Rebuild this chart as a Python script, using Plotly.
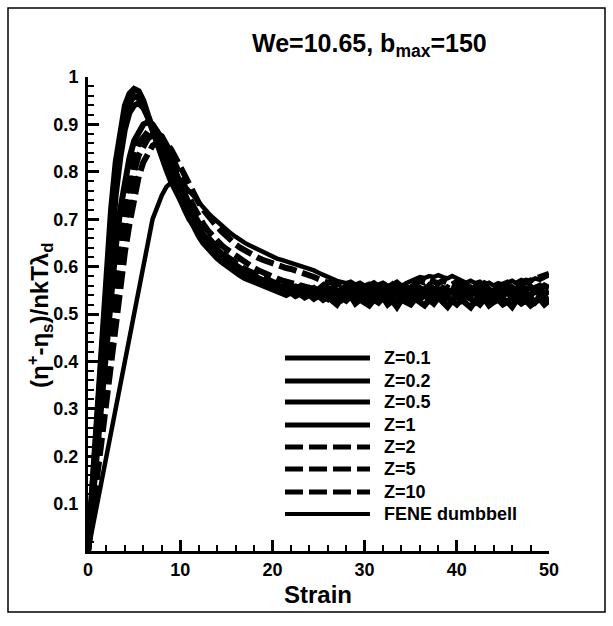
import plotly.graph_objects as go

# ---------------- data ----------------
strain = [0.0, 0.5, 1.0, 1.5, 2.0, 2.5, 3.0, 3.5, 4.0, 4.5,
          5.0, 5.5, 6.0, 6.5, 7.0, 7.5, 8.0, 8.5, 9.0, 9.5,
          10.0, 10.5, 11.0, 11.5, 12.0, 12.5, 13.0, 13.5, 14.0, 14.5,
          15.0, 15.5, 16.0, 16.5, 17.0, 17.5, 18.0, 18.5, 19.0, 19.5,
          20.0, 20.5, 21.0, 21.5, 22.0, 22.5, 23.0, 23.5, 24.0, 24.5,
          25.0, 25.5, 26.0, 26.5, 27.0, 27.5, 28.0, 28.5, 29.0, 29.5,
          30.0, 30.5, 31.0, 31.5, 32.0, 32.5, 33.0, 33.5, 34.0, 34.5,
          35.0, 35.5, 36.0, 36.5, 37.0, 37.5, 38.0, 38.5, 39.0, 39.5,
          40.0, 40.5, 41.0, 41.5, 42.0, 42.5, 43.0, 43.5, 44.0, 44.5,
          45.0, 45.5, 46.0, 46.5, 47.0, 47.5, 48.0, 48.5, 49.0, 49.5,
          50.0]

series_names = ["Z=0.1", "Z=0.2", "Z=0.5", "Z=1", "Z=2", "Z=5", "Z=10", "FENE dumbbell"]

z_0_1 = [0.00, 0.15, 0.31, 0.46, 0.60, 0.72, 0.82, 0.89, 0.94, 0.965, 0.975,
         0.97, 0.95, 0.92, 0.89, 0.86, 0.83, 0.81, 0.79, 0.765, 0.74,
         0.72, 0.70, 0.685, 0.67, 0.655, 0.645, 0.635, 0.625, 0.615, 0.61,
         0.60, 0.598, 0.59, 0.585, 0.58, 0.575, 0.572, 0.568, 0.562, 0.56,
         0.555, 0.558, 0.55, 0.552, 0.545, 0.55, 0.54, 0.548, 0.54, 0.545,
         0.538, 0.55, 0.542, 0.535, 0.548, 0.54, 0.552, 0.536, 0.545, 0.54,
         0.53, 0.545, 0.55, 0.538, 0.542, 0.535, 0.548, 0.54, 0.532, 0.545,
         0.55, 0.54, 0.545, 0.536, 0.548, 0.542, 0.53, 0.545, 0.55, 0.54,
         0.535, 0.548, 0.54, 0.545, 0.532, 0.55, 0.542, 0.538, 0.548, 0.54,
         0.545, 0.535, 0.55, 0.54, 0.545, 0.538, 0.552, 0.54, 0.545, 0.548]

z_0_2 = [0.00, 0.14, 0.29, 0.43, 0.57, 0.69, 0.79, 0.86, 0.91, 0.945, 0.96,
         0.955, 0.94, 0.915, 0.885, 0.855, 0.83, 0.805, 0.78, 0.76, 0.74,
         0.72, 0.70, 0.68, 0.665, 0.65, 0.638, 0.628, 0.618, 0.61, 0.602,
         0.595, 0.588, 0.582, 0.576, 0.572, 0.567, 0.562, 0.558, 0.555, 0.55,
         0.548, 0.545, 0.54, 0.545, 0.538, 0.542, 0.535, 0.54, 0.532, 0.538,
         0.53, 0.536, 0.528, 0.52, 0.534, 0.528, 0.538, 0.522, 0.53, 0.525,
         0.518, 0.53, 0.524, 0.535, 0.52, 0.528, 0.515, 0.53, 0.525, 0.52,
         0.532, 0.524, 0.518, 0.53, 0.522, 0.535, 0.525, 0.515, 0.528, 0.52,
         0.53, 0.522, 0.514, 0.528, 0.52, 0.532, 0.518, 0.525, 0.53, 0.52,
         0.526, 0.515, 0.53, 0.522, 0.528, 0.518, 0.525, 0.532, 0.52, 0.528]

z_0_5 = [0.00, 0.13, 0.27, 0.40, 0.53, 0.65, 0.75, 0.83, 0.89, 0.925, 0.94,
         0.945, 0.935, 0.915, 0.89, 0.865, 0.84, 0.815, 0.795, 0.77, 0.75,
         0.73, 0.71, 0.69, 0.675, 0.66, 0.65, 0.638, 0.628, 0.62, 0.612,
         0.605, 0.598, 0.592, 0.588, 0.582, 0.578, 0.575, 0.57, 0.568, 0.562,
         0.56, 0.557, 0.562, 0.555, 0.552, 0.558, 0.55, 0.555, 0.548, 0.552,
         0.56, 0.548, 0.555, 0.545, 0.552, 0.558, 0.546, 0.55, 0.555, 0.545,
         0.552, 0.558, 0.545, 0.55, 0.556, 0.544, 0.552, 0.548, 0.558, 0.55,
         0.545, 0.555, 0.548, 0.56, 0.552, 0.546, 0.555, 0.55, 0.545, 0.556,
         0.55, 0.544, 0.556, 0.55, 0.558, 0.546, 0.552, 0.545, 0.555, 0.55,
         0.556, 0.548, 0.545, 0.555, 0.55, 0.558, 0.548, 0.552, 0.56, 0.555]

z_1 = [0.00, 0.11, 0.23, 0.34, 0.45, 0.55, 0.64, 0.72, 0.78, 0.83, 0.865,
       0.885, 0.90, 0.905, 0.90, 0.885, 0.865, 0.84, 0.815, 0.79, 0.765,
       0.74, 0.72, 0.70, 0.682, 0.668, 0.655, 0.645, 0.635, 0.625, 0.618,
       0.61, 0.602, 0.596, 0.59, 0.584, 0.58, 0.575, 0.57, 0.566, 0.562,
       0.558, 0.552, 0.556, 0.548, 0.545, 0.55, 0.542, 0.546, 0.538, 0.545,
       0.54, 0.532, 0.545, 0.538, 0.53, 0.542, 0.535, 0.528, 0.54, 0.534,
       0.525, 0.538, 0.532, 0.545, 0.53, 0.536, 0.528, 0.54, 0.532, 0.525,
       0.538, 0.53, 0.542, 0.528, 0.535, 0.54, 0.526, 0.534, 0.53, 0.538,
       0.528, 0.536, 0.532, 0.525, 0.54, 0.53, 0.535, 0.528, 0.538, 0.532,
       0.526, 0.535, 0.53, 0.54, 0.528, 0.534, 0.525, 0.538, 0.53, 0.535]

z_2 = [0.00, 0.10, 0.20, 0.30, 0.40, 0.50, 0.59, 0.67, 0.74, 0.79, 0.83,
       0.86, 0.875, 0.885, 0.89, 0.885, 0.87, 0.85, 0.825, 0.80, 0.775,
       0.75, 0.73, 0.71, 0.69, 0.675, 0.662, 0.65, 0.64, 0.63, 0.622,
       0.615, 0.608, 0.60, 0.595, 0.59, 0.585, 0.58, 0.576, 0.572, 0.568,
       0.565, 0.56, 0.562, 0.556, 0.558, 0.552, 0.556, 0.55, 0.555, 0.548,
       0.545, 0.555, 0.55, 0.542, 0.552, 0.546, 0.54, 0.55, 0.545, 0.538,
       0.548, 0.54, 0.545, 0.552, 0.538, 0.546, 0.55, 0.54, 0.545, 0.536,
       0.548, 0.542, 0.552, 0.545, 0.538, 0.55, 0.544, 0.54, 0.552, 0.546,
       0.54, 0.55, 0.545, 0.538, 0.552, 0.546, 0.542, 0.55, 0.544, 0.538,
       0.548, 0.542, 0.55, 0.545, 0.54, 0.552, 0.546, 0.55, 0.542, 0.548]

z_5 = [0.00, 0.09, 0.18, 0.27, 0.36, 0.45, 0.54, 0.62, 0.69, 0.75, 0.80,
       0.835, 0.855, 0.87, 0.878, 0.88, 0.875, 0.86, 0.84, 0.815, 0.79,
       0.765, 0.745, 0.725, 0.705, 0.69, 0.676, 0.664, 0.654, 0.645, 0.637,
       0.63, 0.622, 0.615, 0.608, 0.602, 0.597, 0.592, 0.587, 0.583, 0.578,
       0.575, 0.571, 0.568, 0.565, 0.562, 0.56, 0.557, 0.555, 0.552, 0.55,
       0.556, 0.548, 0.552, 0.558, 0.546, 0.553, 0.56, 0.55, 0.545, 0.555,
       0.56, 0.55, 0.556, 0.548, 0.554, 0.562, 0.55, 0.556, 0.546, 0.553,
       0.558, 0.55, 0.545, 0.556, 0.562, 0.552, 0.548, 0.556, 0.55, 0.545,
       0.555, 0.56, 0.55, 0.546, 0.556, 0.552, 0.56, 0.548, 0.555, 0.55,
       0.545, 0.556, 0.55, 0.558, 0.552, 0.546, 0.555, 0.56, 0.55, 0.556]

z_10 = [0.00, 0.08, 0.16, 0.24, 0.32, 0.40, 0.48, 0.56, 0.63, 0.69, 0.745,
        0.79, 0.82, 0.84, 0.855, 0.862, 0.865, 0.86, 0.848, 0.83, 0.81,
        0.79, 0.77, 0.752, 0.735, 0.72, 0.707, 0.695, 0.684, 0.674, 0.664,
        0.655, 0.647, 0.64, 0.634, 0.628, 0.623, 0.618, 0.614, 0.61, 0.606,
        0.602, 0.60, 0.597, 0.595, 0.592, 0.59, 0.586, 0.583, 0.578, 0.574,
        0.57, 0.566, 0.568, 0.562, 0.565, 0.56, 0.563, 0.558, 0.562, 0.556,
        0.56, 0.565, 0.558, 0.562, 0.555, 0.56, 0.566, 0.558, 0.562, 0.556,
        0.565, 0.57, 0.566, 0.572, 0.568, 0.565, 0.57, 0.566, 0.562, 0.568,
        0.565, 0.56, 0.566, 0.562, 0.558, 0.565, 0.56, 0.564, 0.558, 0.562,
        0.566, 0.56, 0.565, 0.57, 0.566, 0.572, 0.575, 0.578, 0.58, 0.585]

fene = [0.00, 0.05, 0.10, 0.155, 0.21, 0.26, 0.31, 0.36, 0.41, 0.46, 0.51,
        0.56, 0.61, 0.66, 0.70, 0.725, 0.75, 0.768, 0.777, 0.78, 0.777,
        0.77, 0.76, 0.748, 0.736, 0.724, 0.714, 0.704, 0.695, 0.686, 0.678,
        0.67, 0.663, 0.656, 0.65, 0.645, 0.64, 0.635, 0.63, 0.625, 0.62,
        0.617, 0.614, 0.611, 0.608, 0.605, 0.602, 0.60, 0.596, 0.592, 0.587,
        0.582, 0.578, 0.574, 0.57, 0.568, 0.565, 0.568, 0.562, 0.566, 0.56,
        0.564, 0.558, 0.562, 0.566, 0.56, 0.556, 0.562, 0.558, 0.565, 0.57,
        0.574, 0.578, 0.576, 0.58, 0.578, 0.582, 0.578, 0.575, 0.58, 0.576,
        0.572, 0.566, 0.57, 0.565, 0.568, 0.562, 0.566, 0.56, 0.565, 0.562,
        0.566, 0.57, 0.564, 0.568, 0.572, 0.57, 0.575, 0.572, 0.578, 0.582]

series_values = [z_0_1, z_0_2, z_0_5, z_1, z_2, z_5, z_10, fene]

x_tick_vals = [0, 10, 20, 30, 40, 50]
x_tick_text = ["0", "10", "20", "30", "40", "50"]
y_tick_vals = [0.1, 0.2, 0.3, 0.4, 0.5, 0.6, 0.7, 0.8, 0.9, 1.0]
y_tick_text = ["0.1", "0.2", "0.3", "0.4", "0.5", "0.6", "0.7", "0.8", "0.9", "1"]

# ---------------- styles ----------------
DASH = "18px,6px"
line_styles = [
    dict(width=6, dash="solid", legend_width=5),
    dict(width=6, dash="solid", legend_width=5),
    dict(width=6, dash="solid", legend_width=5),
    dict(width=6, dash="solid", legend_width=5),
    dict(width=6, dash=DASH, legend_width=5),
    dict(width=6, dash=DASH, legend_width=5),
    dict(width=6, dash=DASH, legend_width=5),
    dict(width=4.5, dash="solid", legend_width=4),
]

FONT = "Liberation Sans, Arial, Helvetica, sans-serif"

fig = go.Figure()
for name, vals, st in zip(series_names, series_values, line_styles):
    fig.add_trace(go.Scatter(
        x=strain, y=vals, mode="lines", name=name, showlegend=False,
        line=dict(color="black", width=st["width"], dash=st["dash"]),
    ))

# plot area geometry (pixels) used to place manual legend / frame
W, H = 613, 626
L, R, T, B = 88, 64, 77, 75
pw, ph = W - L - R, H - T - B

def px_x(px):
    return (px - L) / pw

def px_y(py):
    return (H - B - py) / ph

shapes = []
annotations = []

# manual legend
legend_rows = [358, 381, 402, 425, 447, 469, 492, 514]
for name, st, ry in zip(series_names, line_styles, legend_rows):
    shapes.append(dict(type="line", xref="paper", yref="paper",
                       x0=px_x(285), x1=px_x(370), y0=px_y(ry), y1=px_y(ry),
                       line=dict(color="black", width=st["legend_width"],
                                 dash=st["dash"])))
    annotations.append(dict(xref="paper", yref="paper", x=px_x(382), y=px_y(ry),
                            xanchor="left", yanchor="middle", showarrow=False,
                            text="<b>%s</b>" % name,
                            font=dict(family=FONT, size=18, color="black")))

# outer frame
shapes.append(dict(type="rect", xref="paper", yref="paper",
                   x0=px_x(8), x1=px_x(605), y0=px_y(612), y1=px_y(8),
                   line=dict(color="black", width=1.5), layer="below"))

# title
annotations.append(dict(xref="paper", yref="paper", x=px_x(369), y=px_y(45),
                        xanchor="center", yanchor="middle", showarrow=False,
                        text="<b>We=10.65, b<sub>max</sub>=150</b>",
                        font=dict(family=FONT, size=25, color="black")))

# y label
annotations.append(dict(xref="paper", yref="paper", x=px_x(40), y=px_y(316),
                        xanchor="center", yanchor="middle", showarrow=False,
                        textangle=-90,
                        text="<b>(η<sup>+</sup>-η<sub>s</sub>)/nkTλ<sub>d</sub></b>",
                        font=dict(family=FONT, size=24, color="black")))

# x label
annotations.append(dict(xref="paper", yref="paper", x=px_x(318), y=px_y(594),
                        xanchor="center", yanchor="middle", showarrow=False,
                        text="<b>Strain</b>",
                        font=dict(family=FONT, size=24, color="black")))

fig.update_layout(
    width=W, height=H,
    margin=dict(l=L, r=R, t=T, b=B, pad=0),
    paper_bgcolor="white", plot_bgcolor="white",
    showlegend=False,
    shapes=shapes, annotations=annotations,
    font=dict(family=FONT, color="black"),
)

fig.update_xaxes(
    range=[0, 50], showgrid=False, zeroline=False,
    showline=True, linecolor="black", linewidth=3,
    ticks="inside", ticklen=11, tickwidth=3, tickcolor="black",
    tickvals=x_tick_vals, ticktext=x_tick_text,
    tickfont=dict(family=FONT, size=18, color="black", weight="bold"),
    ticklabelstandoff=0,
    minor=dict(dtick=2, ticks="inside", ticklen=6, tickwidth=1.5, tickcolor="black"),
)
fig.update_yaxes(
    range=[0, 1], showgrid=False, zeroline=False,
    showline=True, linecolor="black", linewidth=3,
    ticks="inside", ticklen=11, tickwidth=3, tickcolor="black",
    tickvals=y_tick_vals, ticktext=y_tick_text,
    tickfont=dict(family=FONT, size=18, color="black", weight="bold"),
    ticklabelstandoff=3,
    minor=dict(dtick=0.02, ticks="inside", ticklen=6, tickwidth=1.5, tickcolor="black"),
)

fig.write_html("out.html")
